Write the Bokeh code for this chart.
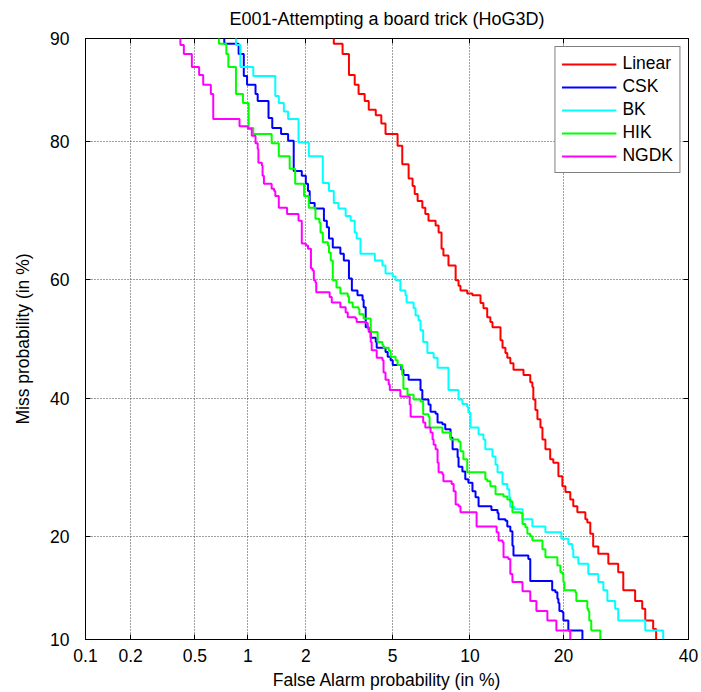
from statistics import NormalDist
from bokeh.plotting import figure
from bokeh.models import (FixedTicker, CustomJSTickFormatter, LinearAxis, Legend,
                          LegendItem, Range1d, CustomLabelingPolicy)
from bokeh.embed import file_html
from bokeh.resources import INLINE

title_text = "E001-Attempting a board trick (HoG3D)"
x_label = "False Alarm probability (in %)"
y_label = "Miss probability (in %)"

x_ticks = [0.1, 0.2, 0.5, 1, 2, 5, 10, 20, 40]
x_tick_labels = ["0.1", "0.2", "0.5", "1", "2", "5", "10", "20", "40"]
y_ticks = [10, 20, 40, 60, 80, 90]
y_tick_labels = ["10", "20", "40", "60", "80", "90"]

series_names = ["Linear", "CSK", "BK", "HIK", "NGDK"]
series_colors = ["#FF0000", "#0000FF", "#00FFFF", "#00FF00", "#FF00FF"]

# False alarm (%) / miss (%) at each step of the DET staircases
linear_pfa = [2.73, 2.73, 3.00, 3.21, 3.41, 3.55, 3.78, 3.94, 4.23, 4.47,
              4.66, 5.24, 5.48, 5.82, 6.04, 6.16, 6.33, 6.61, 6.79, 6.99,
              7.45, 7.65, 7.85, 7.98, 8.34, 8.87, 9.09, 9.24, 9.78, 10.21,
              10.90, 11.16, 11.50, 11.79, 11.99, 12.76, 12.96, 13.25, 13.44, 13.75,
              14.08, 15.16, 15.92, 16.16, 16.27, 16.51, 16.75, 17.11, 17.35, 17.71,
              18.30, 18.69, 19.34, 19.86, 20.26, 20.91, 21.32, 21.88, 23.01, 23.29,
              23.72, 24.14, 24.90, 26.42, 27.96, 28.77, 30.70, 31.88, 32.39, 33.74,
              34.25]
linear_pmiss = [92.0, 89.6, 88.8, 87.0, 86.1, 85.2, 84.5, 83.6, 83.0, 82.1,
                80.9, 79.5, 77.2, 75.3, 74.3, 73.2, 72.2, 71.2, 70.3, 69.3,
                68.6, 67.5, 65.0, 63.9, 62.3, 59.9, 59.0, 58.2, 57.7, 57.4,
                56.1, 55.2, 53.7, 52.9, 52.0, 49.8, 48.5, 47.6, 46.8, 45.9,
                44.8, 43.9, 42.7, 41.9, 39.8, 38.1, 36.6, 35.3, 33.4, 31.9,
                30.4, 29.9, 27.9, 26.5, 25.7, 24.7, 23.8, 23.0, 22.1, 21.7,
                20.3, 18.8, 18.0, 16.9, 16.0, 14.2, 13.2, 12.5, 11.5, 10.8,
                9.0]

csk_pfa = [0.74, 0.74, 0.89, 0.95, 0.99, 1.10, 1.13, 1.29, 1.35, 1.50,
           1.63, 1.74, 1.91, 2.00, 2.05, 2.09, 2.21, 2.45, 2.53, 2.59,
           2.70, 2.93, 3.04, 3.21, 3.31, 3.51, 3.70, 3.74, 3.82, 3.94,
           4.02, 4.23, 4.27, 4.66, 4.76, 4.90, 5.00, 5.43, 5.54, 5.82,
           6.50, 6.61, 6.99, 7.12, 7.45, 7.58, 7.91, 8.11, 8.49, 8.64,
           9.02, 9.09, 9.39, 9.62, 9.87, 10.21, 10.47, 10.73, 11.89, 12.47,
           12.57, 13.25, 13.44, 13.75, 13.97, 14.08, 15.70, 15.92, 18.55, 18.95,
           19.21, 19.34, 19.47, 19.86, 19.99, 20.65, 22.59]
csk_pmiss = [92.0, 89.6, 88.8, 86.9, 86.1, 85.2, 84.5, 82.7, 81.6, 80.9,
             80.1, 76.3, 75.7, 74.6, 73.6, 71.9, 71.1, 69.3, 68.3, 66.6,
             65.2, 64.2, 63.1, 60.2, 58.2, 57.4, 56.6, 55.4, 52.0, 51.5,
             50.2, 49.5, 48.5, 47.8, 47.0, 46.4, 45.6, 44.8, 43.9, 43.1,
             41.4, 39.8, 39.0, 37.8, 37.5, 36.1, 35.8, 35.0, 33.7, 31.9,
             30.7, 29.3, 28.6, 27.5, 27.0, 25.8, 25.0, 23.8, 23.3, 22.9,
             22.1, 21.9, 21.2, 20.6, 18.9, 17.8, 17.4, 15.1, 14.2, 14.0,
             13.4, 13.0, 12.3, 12.2, 11.5, 10.7, 9.0]

bk_pfa = [0.86, 0.86, 0.91, 1.07, 1.40, 1.46, 1.55, 1.63, 1.84, 2.07,
          2.42, 2.59, 2.73, 2.87, 3.10, 3.27, 3.41, 3.48, 3.62, 4.19,
          4.52, 4.66, 5.00, 5.14, 5.38, 5.65, 5.71, 6.10, 6.21, 6.38,
          6.50, 6.66, 6.92, 7.32, 7.58, 8.34, 9.09, 9.39, 9.78, 9.87,
          10.04, 10.73, 11.16, 11.33, 11.99, 12.28, 12.47, 12.96, 13.44, 13.65,
          13.75, 14.19, 15.05, 16.16, 17.71, 19.73, 20.65, 21.18, 21.32, 22.02,
          23.43, 24.90, 25.66, 26.27, 27.48, 27.96, 32.39, 35.48]
bk_pmiss = [92.0, 89.5, 87.7, 86.9, 85.0, 84.3, 83.4, 82.6, 79.9, 78.2,
            74.7, 73.6, 71.9, 71.1, 70.0, 69.3, 67.5, 66.6, 64.2, 63.1,
            62.3, 61.0, 60.5, 59.9, 58.2, 57.4, 56.2, 55.2, 54.0, 53.2,
            51.5, 49.5, 47.6, 46.8, 45.1, 41.4, 39.8, 39.1, 38.6, 37.7,
            35.3, 34.2, 33.4, 31.9, 30.8, 29.6, 28.5, 26.8, 26.1, 25.0,
            23.7, 23.4, 22.1, 21.2, 20.5, 19.7, 19.1, 18.5, 17.6, 16.9,
            15.8, 15.0, 14.2, 13.2, 12.5, 11.5, 10.7, 9.0]

hik_pfa = [0.69, 0.69, 0.76, 0.78, 0.86, 0.94, 1.01, 1.07, 1.34, 1.46,
           1.66, 1.77, 1.96, 2.07, 2.23, 2.33, 2.36, 2.42, 2.56, 2.59,
           2.64, 2.70, 2.81, 2.93, 3.17, 3.21, 3.34, 3.55, 3.58, 3.74,
           4.02, 4.31, 4.52, 4.57, 4.81, 4.90, 5.14, 5.24, 5.48, 5.54,
           5.76, 6.10, 6.50, 6.66, 6.99, 7.06, 7.91, 8.49, 9.09, 9.24,
           9.47, 9.78, 11.33, 11.50, 11.79, 12.28, 13.05, 13.44, 13.75, 13.97,
           14.83, 15.05, 15.37, 15.59, 15.92, 16.16, 17.35, 17.71, 19.21, 19.60,
           19.86, 19.99, 20.12, 21.60, 21.74, 23.29, 23.43, 23.57, 23.86, 25.20]
hik_pmiss = [92.0, 89.6, 88.8, 87.7, 85.2, 84.3, 81.6, 80.9, 79.8, 78.2,
             76.6, 74.6, 72.9, 71.2, 69.6, 69.0, 67.5, 66.0, 65.5, 64.4,
             63.1, 59.9, 58.7, 57.7, 57.2, 56.2, 55.4, 55.1, 54.2, 53.5,
             51.2, 49.5, 49.0, 48.5, 48.0, 47.0, 46.4, 45.6, 43.9, 41.6,
             40.6, 39.8, 39.5, 37.4, 37.0, 35.3, 34.5, 33.4, 33.1, 31.6,
             30.4, 28.5, 27.5, 27.2, 26.5, 25.4, 25.1, 24.7, 24.4, 23.0,
             22.9, 21.5, 21.1, 20.3, 20.0, 19.5, 18.5, 17.6, 16.7, 16.0,
             15.8, 15.0, 14.2, 14.0, 13.2, 12.5, 12.3, 11.5, 10.7, 9.0]

ngdk_pfa = [0.41, 0.41, 0.43, 0.48, 0.53, 0.56, 0.62, 0.64, 0.90, 1.00,
            1.05, 1.10, 1.13, 1.14, 1.19, 1.20, 1.22, 1.34, 1.38, 1.40,
            1.46, 1.61, 1.84, 1.91, 2.00, 2.05, 2.12, 2.16, 2.19, 2.23,
            2.25, 2.61, 2.67, 2.93, 3.10, 3.17, 3.44, 3.48, 3.82, 3.90,
            3.94, 4.02, 4.06, 4.27, 4.52, 4.57, 4.66, 4.81, 4.86, 5.38,
            5.88, 5.93, 6.66, 6.79, 7.12, 7.25, 7.32, 7.45, 7.58, 7.65,
            7.91, 7.98, 8.57, 8.72, 8.87, 9.09, 9.24, 10.56, 12.38, 12.57,
            12.96, 13.06, 13.54, 13.75, 13.97, 15.05, 15.92, 16.63, 17.95, 19.08,
            20.91]
ngdk_pmiss = [92.0, 89.5, 88.8, 87.7, 87.0, 86.1, 85.2, 82.6, 81.8, 81.5,
              80.7, 79.8, 79.1, 77.4, 77.0, 75.7, 74.6, 73.9, 73.6, 72.9,
              71.2, 70.3, 69.3, 65.8, 65.5, 65.0, 61.8, 61.5, 59.9, 59.5,
              57.9, 57.1, 56.2, 55.4, 54.5, 53.7, 53.5, 52.9, 52.7, 51.9,
              51.2, 49.5, 48.1, 46.8, 46.4, 44.3, 43.1, 42.3, 41.4, 40.3,
              39.0, 37.0, 36.1, 35.3, 34.5, 33.4, 32.6, 31.9, 29.9, 28.5,
              28.2, 27.2, 26.8, 25.8, 24.0, 23.8, 23.0, 21.2, 20.5, 19.5,
              19.3, 17.6, 17.4, 15.8, 15.0, 14.1, 13.2, 12.3, 11.5, 10.7,
              9.0]

series_pfa = [linear_pfa, csk_pfa, bk_pfa, hik_pfa, ngdk_pfa]
series_pmiss = [linear_pmiss, csk_pmiss, bk_pmiss, hik_pmiss, ngdk_pmiss]

ND = NormalDist()


def probit(values):
    return [ND.inv_cdf(v / 100.0) for v in values]


zx_ticks = probit(x_ticks)
zy_ticks = probit(y_ticks)

FONT = "Liberation Sans"
FS = "17.5px"

p = figure(width=701, height=692, output_backend="svg", toolbar_location=None,
           x_range=Range1d(zx_ticks[0], zx_ticks[-1]),
           y_range=Range1d(zy_ticks[0], zy_ticks[-1]),
           min_border_left=85, min_border_right=13, min_border_top=37,
           min_border_bottom=51)
p.background_fill_color = "white"
p.border_fill_color = "white"
p.outline_line_color = "black"
p.outline_line_width = 1

p.title.text = title_text
p.title.align = "center"
p.title.text_font = FONT
p.title.text_font_size = "18px"
p.title.text_font_style = "normal"
p.title.text_color = "black"
p.title.standoff = 12

label_js = """
let best = 0; let d = Infinity;
for (let i = 0; i < t.length; i++) { const e = Math.abs(t[i] - tick); if (e < d) { d = e; best = i; } }
return l[best];
"""

xt = FixedTicker(ticks=zx_ticks)
yt = FixedTicker(ticks=zy_ticks)

xa = p.xaxis[0]
xa.ticker = xt
xa.formatter = CustomJSTickFormatter(args=dict(t=zx_ticks, l=x_tick_labels), code=label_js)
xa.axis_label = x_label
xa.major_label_standoff = 9
xa.axis_label_standoff = 5

ya = p.yaxis[0]
ya.ticker = yt
ya.formatter = CustomJSTickFormatter(args=dict(t=zy_ticks, l=y_tick_labels), code=label_js)
ya.axis_label = y_label
ya.major_label_standoff = 16
ya.axis_label_standoff = 14

for ax in (xa, ya):
    ax.major_tick_in = 5
    ax.major_tick_out = 0
    ax.minor_tick_line_color = None
    ax.axis_line_color = "black"
    ax.major_tick_line_color = "black"
    ax.major_label_text_font = FONT
    ax.major_label_text_font_size = FS
    ax.major_label_text_color = "black"
    ax.axis_label_text_font = FONT
    ax.axis_label_text_font_size = FS
    ax.axis_label_text_font_style = "normal"
    ax.axis_label_text_color = "black"

# mirrored tick marks (no labels) on the top and right edges of the box
hide_labels = CustomLabelingPolicy(code="""
const all = [...indices];
for (const i of all) { indices.unset(i) }
return indices;
""")
for side, tk in (("above", xt), ("right", yt)):
    m = LinearAxis(ticker=tk, major_tick_in=5, major_tick_out=0,
                   minor_tick_line_color=None, axis_line_color=None,
                   major_tick_line_color="black",
                   major_label_policy=hide_labels,
                   major_label_text_font_size="1px", major_label_standoff=0)
    p.add_layout(m, side)

p.xgrid.ticker = xt
p.ygrid.ticker = yt
for g in (p.xgrid[0], p.ygrid[0]):
    g.grid_line_color = "#404040"
    g.grid_line_dash = "1 2"
    g.grid_line_width = 1

items = []
for name, color, pfa, pmiss in zip(series_names, series_colors, series_pfa, series_pmiss):
    r = p.step(probit(pfa), probit(pmiss), mode="after", line_color=color, line_width=2)
    items.append(LegendItem(label=name, renderers=[r]))

legend = Legend(items=items, location="top_right")
legend.border_line_color = "black"
legend.border_line_width = 1
legend.background_fill_color = "white"
legend.background_fill_alpha = 1.0
legend.label_text_font = FONT
legend.label_text_font_size = FS
legend.label_text_color = "black"
legend.glyph_width = 55
legend.glyph_height = 20
legend.label_height = 20
legend.spacing = 2
legend.padding = 6
legend.margin = 8
legend.label_standoff = 6
p.add_layout(legend)

open("out.html", "w").write(file_html(p, INLINE))
